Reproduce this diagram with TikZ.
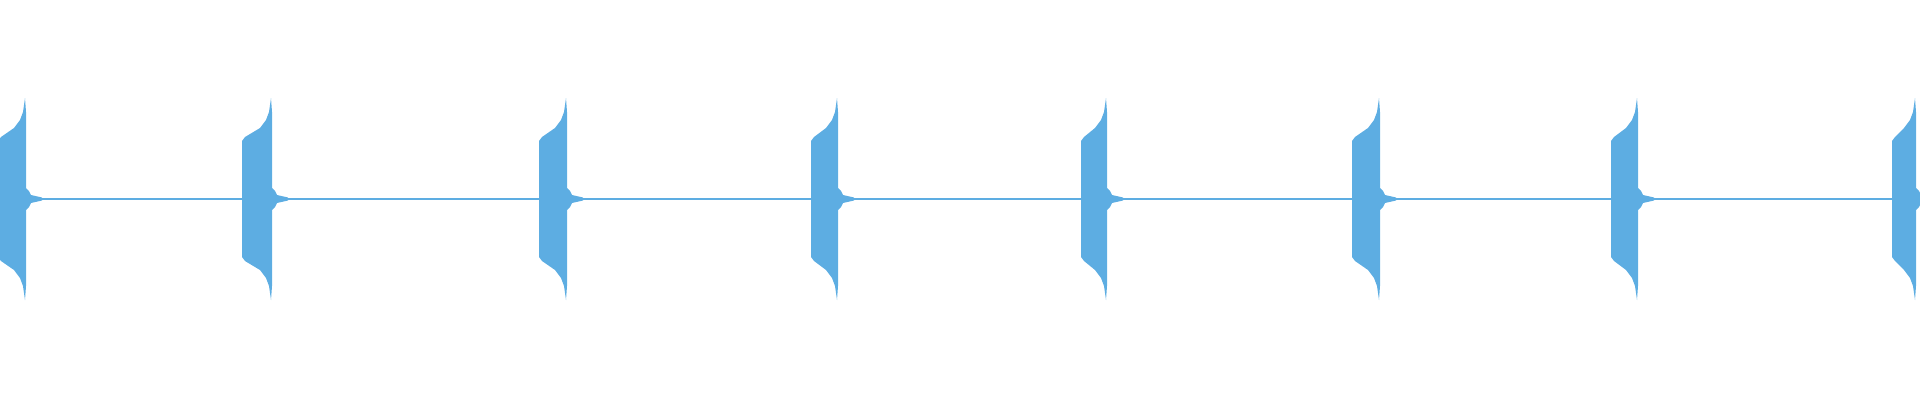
\documentclass[tikz,border=0pt]{standalone}
\definecolor{wave}{RGB}{93,173,226}
% one burst: left edge #1, right edge #2
\newcommand{\burst}[2]{%
  \fill[wave] (#1,199) -- (#1,141) -- (#1+3,137) -- (#2-12,128) -- (#2-6,120)
    -- (#2-3,112) -- (#2-1,98) -- (#2,112) -- (#2,188) -- (#2+3,191) -- (#2+5,195)
    -- (#2+16,197.5) -- (#2+16,200.5) -- (#2+5,203) -- (#2+3,207) -- (#2,210)
    -- (#2,286) -- (#2-1,300) -- (#2-3,286) -- (#2-6,278) -- (#2-12,270)
    -- (#1+3,261) -- (#1,257) -- cycle;}
\begin{document}
\begin{tikzpicture}[x=0.01cm,y=-0.01cm]
  \useasboundingbox (0,0) rectangle (1920,400);
  \begin{scope}
    \clip (0,0) rectangle (1920,400);
    \draw[wave,line width=0.4pt] (0,199) -- (1920,199);
    \foreach \l/\r in {-2/26,242/272,539/567,811/838,1081/1107,1352/1380,1611/1638,1892/1916}
      {\burst{\l}{\r}}
  \end{scope}
\end{tikzpicture}
\end{document}
